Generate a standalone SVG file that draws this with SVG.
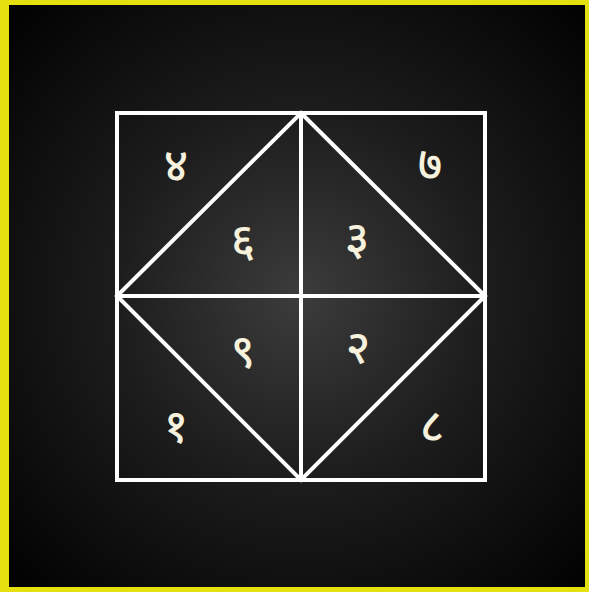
<svg xmlns="http://www.w3.org/2000/svg" width="589" height="592" viewBox="0 0 589 592">
<defs>
<radialGradient id="bg" cx="300" cy="296" r="420" gradientUnits="userSpaceOnUse">
<stop offset="0" stop-color="#3c3c3c"/>
<stop offset="0.45" stop-color="#1c1c1c"/>
<stop offset="1" stop-color="#000000"/>
</radialGradient>
<style>
.ln{stroke:#ffffff;stroke-width:4;fill:none;stroke-linecap:square}
.num{fill:#f6f1dc;font-family:"Noto Sans Devanagari","Noto Serif Devanagari","Lohit Devanagari","Noto Sans",sans-serif;font-size:46px;font-weight:500;text-anchor:middle;dominant-baseline:central}
</style>
</defs>
<rect x="0" y="0" width="589" height="592" fill="#e5e00f"/>
<rect x="9" y="5" width="576" height="582" fill="url(#bg)"/>
<g id="connectors">
<rect class="ln" x="117" y="113" width="368" height="367"/>
<line class="ln" x1="301" y1="113" x2="301" y2="480"/>
<line class="ln" x1="117" y1="296" x2="485" y2="296"/>
<polygon class="ln" points="301,113 485,296 301,480 117,296" stroke-linejoin="miter"/>
</g>
<g id="h4"><text class="num" x="176" y="170">४</text></g>
<g id="h7"><text class="num" x="430" y="169">७</text></g>
<g id="h6"><text class="num" x="243" y="245">६</text></g>
<g id="h3"><text class="num" x="357" y="243">३</text></g>
<g id="h9"><text class="num" x="243" y="356">९</text></g>
<g id="h2"><text class="num" x="358" y="352">२</text></g>
<g id="h1"><text class="num" x="176" y="431">१</text></g>
<g id="h8"><text class="num" x="432" y="431">८</text></g>
</svg>
